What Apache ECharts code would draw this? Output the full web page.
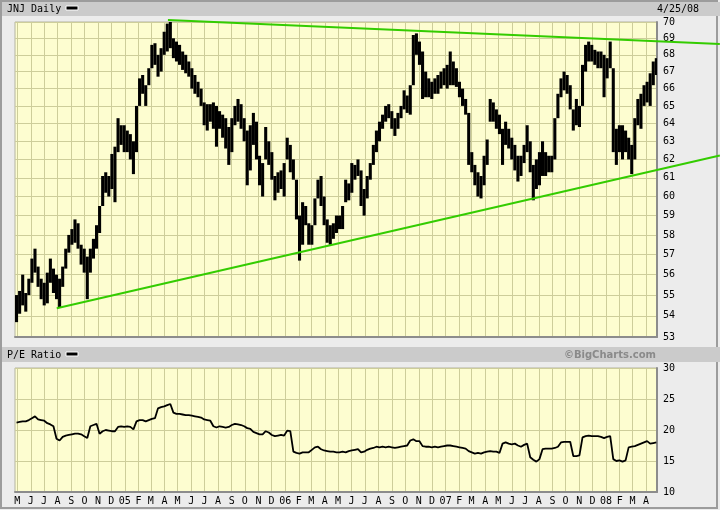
<!DOCTYPE html>
<html><head><meta charset="utf-8">
<script src="https://cdn.jsdelivr.net/npm/echarts@6/dist/echarts.min.js"></script>
<style>html,body{margin:0;padding:0;background:#ececec}#c{width:720px;height:510px}</style>
</head><body><div id="c"></div>
<script>
// ---- data (weekly, starting week of 2004-04-26) ----
const startDate = Date.UTC(2004, 3, 26);
const endDate = Date.UTC(2008, 3, 26);
const lastDateLabel = '4/25/08';
const weeklyHigh = [
55.0,55.2,56.0,55.1,55.8,56.8,57.3,56.4,55.8,55.6,
56.1,56.8,56.3,56.0,55.8,56.4,57.3,58.0,58.3,58.8,
58.6,57.5,57.3,56.9,57.3,57.8,58.5,59.5,61.1,61.3,
61.1,62.3,62.7,64.3,63.9,63.9,63.6,63.4,63.0,65.0,
66.6,66.8,66.2,67.2,68.6,68.7,68.0,68.4,69.4,69.9,
70.0,69.0,68.8,68.6,68.2,68.0,67.6,67.2,66.8,66.4,
66.0,65.2,65.1,65.1,65.2,65.0,64.7,64.5,64.3,63.8,
64.3,65.0,65.4,65.1,64.3,63.6,63.9,64.6,64.1,62.2,
61.8,63.8,63.0,62.4,61.1,61.3,61.4,61.8,63.2,62.8,
62.0,60.9,59.0,59.7,59.5,58.6,58.5,59.9,60.9,61.1,
60.0,58.8,58.5,58.6,59.0,59.0,59.5,60.9,60.7,61.8,
61.7,62.0,61.4,60.4,61.1,61.8,62.8,63.6,64.1,64.5,
65.0,65.1,64.7,64.3,64.6,65.0,65.9,65.6,66.2,69.2,
69.3,68.8,68.2,67.0,66.6,66.4,66.6,66.8,67.0,67.2,
67.4,68.2,67.6,67.2,66.4,66.0,65.4,64.6,62.4,61.7,
61.3,61.1,62.2,63.1,65.4,65.2,64.8,64.5,63.7,64.1,
63.7,63.2,62.8,62.2,62.2,62.8,63.9,63.0,61.7,62.0,
62.4,63.0,62.4,62.2,62.2,64.3,65.7,66.6,67.0,66.8,
66.2,64.8,65.4,65.0,67.4,68.6,68.8,68.6,68.3,68.2,
68.2,68.0,67.8,68.8,67.2,63.7,63.9,63.9,63.6,63.2,
62.8,64.3,65.4,65.7,66.2,66.4,66.9,67.6,67.8];
const weeklyLow = [
53.7,54.1,54.5,54.2,55.0,55.6,56.1,55.4,54.8,54.5,
54.6,55.6,55.1,54.8,54.4,55.4,56.3,57.1,57.5,57.6,
57.3,56.5,56.1,54.8,56.1,56.8,57.3,58.1,59.5,60.2,
60.0,60.4,59.7,62.4,62.8,62.4,62.4,62.0,61.2,62.4,
65.0,65.7,65.0,66.2,67.2,67.4,66.7,67.0,68.0,68.2,
68.4,67.8,67.6,67.4,67.1,66.9,66.7,66.0,65.7,65.5,
65.0,63.9,63.6,64.1,63.7,62.7,63.7,63.2,62.6,61.7,
62.4,63.9,64.1,63.7,63.0,60.6,61.4,62.8,62.0,60.6,
60.0,62.0,61.7,60.9,59.8,60.2,60.4,60.0,62.0,61.3,
60.9,58.8,56.7,57.5,58.5,57.5,57.5,58.5,59.9,59.5,
58.5,57.6,57.5,57.8,58.1,58.3,58.3,59.7,59.8,60.2,
60.9,61.1,59.5,59.0,59.9,60.9,61.7,62.4,63.0,63.7,
64.1,64.3,63.7,63.3,63.7,64.3,64.8,64.6,64.5,66.2,
68.0,67.4,65.4,65.5,65.5,65.4,65.7,65.7,66.0,66.2,
66.0,66.2,66.2,66.1,65.5,65.0,64.5,61.7,61.3,60.6,
60.0,59.9,60.6,61.7,64.1,64.1,63.7,63.4,61.7,62.8,
62.6,62.0,61.4,60.8,61.1,61.8,62.4,61.3,59.8,60.4,
60.6,61.1,61.1,61.3,61.3,62.0,64.3,65.5,65.9,65.7,
64.8,63.6,63.9,63.8,65.0,67.0,67.6,67.6,67.4,67.2,
67.2,65.5,66.6,67.2,62.4,61.7,62.4,62.0,62.4,62.0,
61.2,62.0,63.9,63.7,65.0,65.2,65.0,66.2,66.8];
const peRatio = [
21.2,21.3,21.4,21.4,21.6,21.9,22.2,21.7,21.6,21.5,
21.1,20.9,20.6,18.6,18.3,18.9,19.1,19.2,19.3,19.4,
19.4,19.3,19.0,18.7,20.6,20.8,21.0,19.4,19.8,20.0,
19.9,19.8,19.8,20.5,20.6,20.5,20.6,20.5,20.1,21.4,
21.6,21.6,21.4,21.6,21.8,21.9,23.5,23.7,23.8,24.0,
24.2,22.8,22.6,22.6,22.5,22.4,22.4,22.3,22.2,22.1,
22.0,21.7,21.6,21.5,20.6,20.4,20.6,20.5,20.4,20.5,
20.8,21.0,20.9,20.8,20.6,20.3,20.2,19.7,19.5,19.3,
19.3,19.8,19.6,19.2,19.0,19.1,19.2,19.1,19.9,19.8,
16.5,16.3,16.2,16.4,16.4,16.4,16.8,17.2,17.3,16.9,
16.7,16.6,16.5,16.5,16.4,16.4,16.5,16.4,16.6,16.7,
16.8,16.9,16.4,16.5,16.8,17.0,17.1,17.3,17.2,17.3,
17.2,17.3,17.2,17.1,17.2,17.3,17.4,17.5,18.3,18.5,
18.2,18.2,17.4,17.3,17.3,17.2,17.3,17.2,17.3,17.4,
17.5,17.5,17.4,17.3,17.2,17.1,17.0,16.6,16.4,16.2,
16.3,16.2,16.4,16.5,16.6,16.5,16.5,16.3,17.8,18.0,
17.8,17.7,17.8,17.5,17.3,17.6,17.8,15.6,15.2,14.9,
15.3,16.9,17.0,17.0,17.0,17.1,17.3,18.0,18.1,18.1,
18.1,15.8,15.8,15.9,18.8,19.0,19.1,19.0,19.0,19.0,
18.9,18.7,18.9,19.0,15.3,15.0,15.1,14.9,15.1,17.2,
17.3,17.4,17.6,17.8,18.0,18.2,17.8,17.9,18.0];
const priceTicks = [53,54,55,56,57,58,59,60,61,62,63,64,65,66,67,68,69,70];
const peTicks = [10,15,20,25,30];
const monthLabels = ['M','J','J','A','S','O','N','D','05','F','M','A',
  'M','J','J','A','S','O','N','D','06','F','M','A',
  'M','J','J','A','S','O','N','D','07','F','M','A',
  'M','J','J','A','S','O','N','D','08','F','M','A'];
// trend lines: [startDate, startPrice, endDate, endPrice]
const trendUpper = [Date.UTC(2005,3,9), 70.13, Date.UTC(2008,8,16), 68.65];
const trendLower = [Date.UTC(2004,6,30), 54.36, Date.UTC(2008,8,16), 62.21];

// ---- build (x axis = days since startDate) ----
const DAY = 86400000;
const dayOf = ms => (ms - startDate) / DAY;
const xMax = dayOf(endDate);
const monthTicks = monthLabels.map((_, i) => dayOf(Date.UTC(2004, 4 + i, 1)));
const priceData = weeklyHigh.map((h, i) => [7 * i, h, weeklyLow[i]]);
const peData = peRatio.map((v, i) => [7 * i + 3.5, v]);
const trendData = [trendUpper, trendLower].map(t => [dayOf(t[0]), t[1], dayOf(t[2]), t[3]]);

const FONT = 'DejaVu Sans Mono';
const gridLine = { show: true, lineStyle: { color: '#cdcd9a', width: 1 } };
const edge = { show: true, onZero: false, lineStyle: { color: '#8c8c8c', width: 2 } };
function monthLabel(v) {
  const idx = monthTicks.findIndex(t => Math.abs(t - v) < 0.01);
  return idx >= 0 ? monthLabels[idx] : '';
}

const chart = echarts.init(document.getElementById('c'), null, { renderer: 'canvas' });
chart.setOption({
  animation: false,
  backgroundColor: '#ececec',
  grid: [
    { left: 15, top: 22, width: 642, height: 315, show: true, backgroundColor: '#fdfdd0', borderWidth: 1, borderColor: '#b4b4a0' },
    { left: 15, top: 368, width: 642, height: 124, show: true, backgroundColor: '#fdfdd0', borderWidth: 1, borderColor: '#b4b4a0' }
  ],
  xAxis: [
    { type: 'value', gridIndex: 0, min: 0, max: xMax,
      axisLine: edge, axisTick: { show: false, customValues: monthTicks },
      axisLabel: { show: false, customValues: monthTicks }, splitLine: gridLine },
    { type: 'value', gridIndex: 1, min: 0, max: xMax,
      axisLine: edge, axisTick: { show: false, customValues: monthTicks },
      axisLabel: { customValues: monthTicks, formatter: monthLabel, fontFamily: FONT, fontSize: 10, color: '#000', margin: 4 },
      splitLine: gridLine }
  ],
  yAxis: [
    { type: 'log', logBase: 10, gridIndex: 0, position: 'right', min: 53, max: 70,
      axisLine: edge, axisTick: { show: false, customValues: priceTicks },
      axisLabel: { customValues: priceTicks, fontFamily: FONT, fontSize: 10, color: '#000', margin: 6 },
      splitLine: gridLine },
    { type: 'value', gridIndex: 1, position: 'right', min: 10, max: 30, interval: 5,
      axisLine: edge, axisTick: { show: false },
      axisLabel: { fontFamily: FONT, fontSize: 10, color: '#000', margin: 6 },
      splitLine: gridLine }
  ],
  series: [
    { type: 'custom', xAxisIndex: 0, yAxisIndex: 0, clip: true, z: 3,
      data: priceData,
      renderItem: function (params, api) {
        const t = api.value(0), hi = api.value(1), lo = api.value(2);
        const p1 = api.coord([t, hi]);
        const p2 = api.coord([t + 7, lo]);
        return { type: 'rect', shape: { x: p1[0], y: p1[1], width: p2[0] - p1[0], height: p2[1] - p1[1] },
                 style: { fill: '#000' } };
      } },
    { type: 'custom', xAxisIndex: 0, yAxisIndex: 0, clip: false, z: 4,
      data: trendData,
      renderItem: function (params, api) {
        const a = api.coord([api.value(0), api.value(1)]);
        const b = api.coord([api.value(2), api.value(3)]);
        return { type: 'line', shape: { x1: a[0], y1: a[1], x2: b[0], y2: b[1] },
                 style: { stroke: '#33cc00', lineWidth: 2 } };
      } },
    { type: 'line', xAxisIndex: 1, yAxisIndex: 1, data: peData, z: 3,
      showSymbol: false, lineStyle: { color: '#000', width: 1.8 } }
  ],
  graphic: [
    { type: 'rect', z: 0, silent: true, shape: { x: 1, y: 1, width: 716, height: 507 },
      style: { fill: 'none', stroke: '#9c9c9c', lineWidth: 2 } },
    { type: 'rect', z: 1, silent: true, shape: { x: 2, y: 2, width: 718, height: 14 }, style: { fill: '#cbcbcb' } },
    { type: 'text', z: 2, silent: true, x: 7, y: 9, style: { text: 'JNJ Daily', font: '10px ' + FONT, fill: '#000', verticalAlign: 'middle' } },
    { type: 'rect', z: 2, silent: true, shape: { x: 66, y: 6, width: 12, height: 4 }, style: { fill: '#000', stroke: '#fff', lineWidth: 1 } },
    { type: 'text', z: 2, silent: true, x: 657, y: 9, style: { text: lastDateLabel, font: '10px ' + FONT, fill: '#000', verticalAlign: 'middle' } },
    { type: 'rect', z: 1, silent: true, shape: { x: 2, y: 347, width: 718, height: 15 }, style: { fill: '#cbcbcb' } },
    { type: 'text', z: 2, silent: true, x: 7, y: 355, style: { text: 'P/E Ratio', font: '10px ' + FONT, fill: '#000', verticalAlign: 'middle' } },
    { type: 'rect', z: 2, silent: true, shape: { x: 66, y: 352, width: 12, height: 4 }, style: { fill: '#000', stroke: '#fff', lineWidth: 1 } },
    { type: 'text', z: 2, silent: true, x: 656, y: 355, style: { text: '©BigCharts.com', font: 'bold 10px DejaVu Sans', fill: '#8a8a8a', align: 'right', verticalAlign: 'middle' } }
  ]
});
</script></body></html>
